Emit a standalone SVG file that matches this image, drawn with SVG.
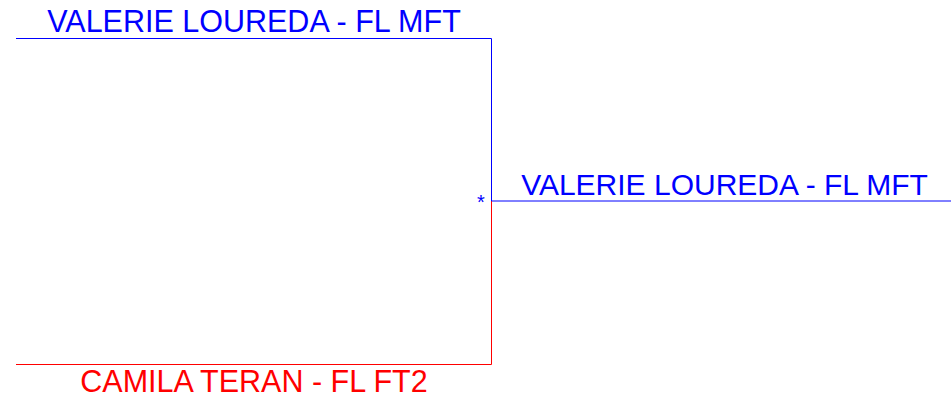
<svg xmlns="http://www.w3.org/2000/svg" width="951" height="397" viewBox="0 0 951 397">
<style>
text{font-family:"Liberation Sans",Arial,sans-serif;font-size:30.5px;text-anchor:middle}
.m{fill:#0000ff}
.f{fill:#ff0000}
.lm{stroke:#0000ff;stroke-width:1;fill:none}
.lf{stroke:#ff0000;stroke-width:1;fill:none}
</style>
<rect width="951" height="397" fill="#ffffff"/>
<g id="connectors">
<path class="lm" d="M16,38.5 H491.5 V201"/>
<path class="lf" d="M491.5,201 V364.5 H16"/>
<path class="lm" d="M491.5,201 H951"/>
</g>
<g id="node-father">
<text class="m" x="254" y="32">VALERIE LOUREDA - FL MFT</text>
</g>
<g id="node-mother">
<text class="f" x="254" y="392">CAMILA TERAN - FL FT2</text>
</g>
<g id="node-subject">
<text class="m" x="724.5" y="195" style="font-size:30px">VALERIE LOUREDA - FL MFT</text>
<text class="m" x="481" y="209" style="font-size:20px">*</text>
</g>
</svg>
